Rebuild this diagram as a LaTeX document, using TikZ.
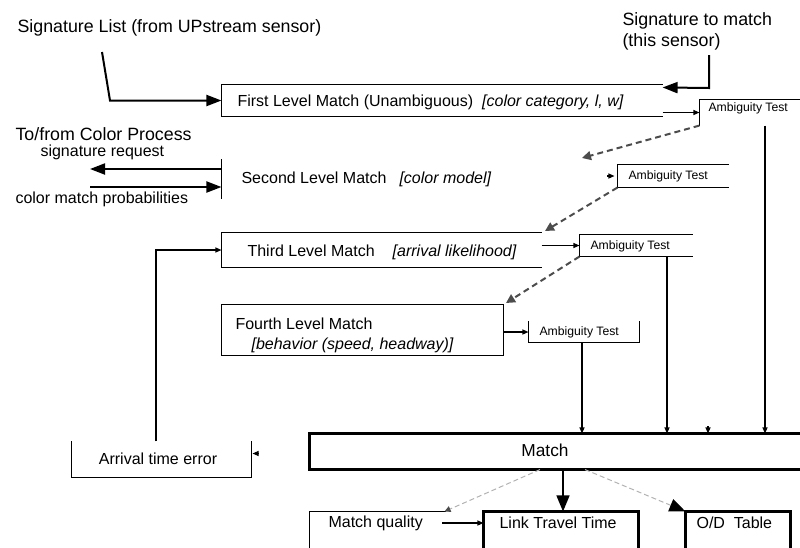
\documentclass[tikz,border=0pt]{standalone}
\usepackage{fontspec}
\setmainfont{Liberation Sans}
\usetikzlibrary{arrows.meta}
\begin{document}
\begin{tikzpicture}[x=1pt,y=-1pt,
  line width=1.1pt,
  txt/.style={inner sep=0pt, anchor=west, font=\fontsize{16}{19}\selectfont},
  bigtxt/.style={txt, font=\fontsize{17.8}{21}\selectfont},
  smtxt/.style={txt, font=\fontsize{12.2}{14}\selectfont},
  frame/.style={inner sep=0pt, draw=none, rectangle},
  bigarr/.style={-{Triangle[length=15pt,width=11pt]}, line width=2pt},
  downarr/.style={-{Triangle[length=16pt,width=13pt]}, line width=1.4pt},
  smallarr/.style={-{Triangle[length=6pt,width=5pt]}, line width=1.1pt},
  darkdash/.style={draw=black!70, line width=2pt, dash pattern=on 6pt off 4pt,
    -{Triangle[length=9pt,width=9pt]}},
  lightdash/.style={draw=black!30, line width=1pt, dash pattern=on 5pt off 3pt},
  thickbox/.style={line width=2.2pt},
  matchbox/.style={line width=2.8pt}
]
\useasboundingbox (0,0) rectangle (800,547);
\clip (0,0) rectangle (800,547);

% ---------- First level ----------
\node[frame, minimum width=440pt, minimum height=31pt] (l1) at (442,100.5) {};
\draw (l1.north east) -- (l1.north west) -- (l1.south west) -- (l1.south east);
\node[txt] (l1t) at (237,102) {First Level Match (Unambiguous)\hspace{9pt}\textit{[color category, l, w]}};

\node[bigtxt] (sl) at (17,28) {Signature List (from UPstream sensor)};
\coordinate (slout) at (102,52);
\draw[bigarr] (slout) -- (110,100.5) -- (l1.west);

\node[bigtxt, align=left] (stm) at (622,31.5) {Signature to match\\(this sensor)};
\coordinate (stmout) at (709,55);
\draw[bigarr] (stmout) -- (709,88) -- ([yshift=-3pt]l1.north east);

% ---------- Ambiguity test 1 ----------
\node[frame, minimum width=100pt, minimum height=25pt] (at1) at (750,112.5) {};
\draw (at1.south west) -- (at1.north west) -- (at1.north east);
\node[smtxt] (at1t) at (708,108) {Ambiguity Test};
\draw[smallarr] ([yshift=-12pt]l1.east) -- (at1.west);

% ---------- Second level ----------
\node[frame, minimum width=280pt, minimum height=38pt] (l2) at (362,179) {};
\draw (l2.north west) -- (l2.south west);
\node[txt] (l2t) at (241,179) {Second Level Match\hspace{13pt}\textit{[color model]}};

\node[bigtxt] (cpt) at (15,134) {To/from Color Process};
\node[txt] (srq) at (40,152) {signature request};
\node[txt] (cmp) at (15,199) {color match probabilities};
\coordinate (cp1) at (90,169);
\coordinate (cp2) at (90,187);
\draw[bigarr] ([yshift=10pt]l2.west) -- (cp1);
\draw[bigarr] (cp2) -- ([yshift=-8pt]l2.west);

\coordinate (d1) at (582,158);
\draw[darkdash] (at1.south west) -- (d1);

% ---------- Ambiguity test 2 ----------
\node[frame, minimum width=110pt, minimum height=22pt] (at2) at (673,176) {};
\draw (at2.north east) -- (at2.north west) -- (at2.south west) -- (at2.south east);
\node[smtxt] (at2t) at (628,176) {Ambiguity Test};
\draw[smallarr] ([xshift=-10pt]at2.west) -- ([xshift=-3pt]at2.west);

\coordinate (d2) at (545,231);
\draw[darkdash] (at2.south west) -- (d2);

% ---------- Third level ----------
\node[frame, minimum width=319pt, minimum height=34pt] (l3) at (381.5,250) {};
\draw (l3.north east) -- (l3.north west) -- (l3.south west) -- (l3.south east);
\node[txt] (l3t) at (247,252) {Third Level Match\hspace{18pt}\textit{[arrival likelihood]}};

\node[frame, minimum width=112pt, minimum height=21pt] (at3) at (636,245.5) {};
\draw (at3.north east) -- (at3.north west) -- (at3.south west) -- (at3.south east);
\node[smtxt] (at3t) at (590,246) {Ambiguity Test};
\draw[smallarr] (l3.east |- at3.west) -- (at3.west);

\coordinate (d3) at (506,303);
\draw[darkdash] (at3.south west) -- (d3);

% ---------- Fourth level ----------
\node[frame, minimum width=281pt, minimum height=50pt] (l4) at (362.5,330) {};
\draw (l4.north west) rectangle (l4.south east);
\node[txt] (l4t) at (235,324) {Fourth Level Match};
\node[txt] (l4u) at (251,345) {\textit{[behavior (speed, headway)]}};

\node[frame, minimum width=110pt, minimum height=20pt] (at4) at (584,332) {};
\draw (at4.north west) -- (at4.south west) -- (at4.south east) -- (at4.north east);
\node[smtxt] (at4t) at (539,332) {Ambiguity Test};
\draw[smallarr] (l4.east |- at4.west) -- (at4.west);

% ---------- Match ----------
\node[frame, minimum width=500pt, minimum height=35pt] (m) at (560,451.5) {};
\draw[matchbox] (m.north east) -- (m.north west) -- (m.south west) -- (m.south east);
\node[txt, anchor=center, font=\fontsize{17.3}{20}\selectfont] (mt) at (545,450) {Match};

\coordinate (v1) at ([xshift=15pt]at1.south);
\coordinate (v3) at ([xshift=31pt]at3.south);
\coordinate (v4) at ([xshift=-2pt]at4.south);
\coordinate (v5) at (708,426);
\draw[smallarr] (v1) -- (v1 |- m.north);
\draw[smallarr] (v3) -- (v3 |- m.north);
\draw[smallarr] (v4) -- (v4 |- m.north);
\draw[smallarr] (v5) -- (v5 |- m.north);

% ---------- Arrival time error ----------
\node[frame, minimum width=179pt, minimum height=35pt] (ate) at (161.5,459.5) {};
\draw (ate.north west) -- (ate.south west) -- (ate.south east) -- (ate.north east);
\node[txt, anchor=center] (atet) at (158,459) {Arrival time error};
\coordinate (fb) at ([xshift=-5.5pt]ate.north);
\draw[smallarr] (fb) |- (l3.west);
\draw[smallarr] ([shift={(7pt,6pt)}]ate.east) -- ([shift={(1pt,6pt)}]ate.east);

% ---------- Bottom boxes ----------
\node[frame, minimum width=135pt, minimum height=48pt] (mq) at (377.5,536) {};
\draw (mq.south west) -- (mq.north west) -- (mq.north east);
\node[txt] (mqt) at (328,523) {Match quality};

\node[frame, minimum width=154pt, minimum height=48pt] (ltt) at (561,536) {};
\draw[thickbox] (ltt.north west) rectangle (ltt.south east);
\node[txt] (lttt) at (499,523) {Link Travel Time};

\node[frame, minimum width=104pt, minimum height=48pt] (od) at (738,536) {};
\draw[thickbox] (od.north west) rectangle (od.south east);
\node[txt] (odt) at (696,523) {O/D\hspace{4.4pt} Table};

\coordinate (mqo) at (442,523);
\draw[smallarr] (mqo) -- (mqo -| ltt.west);

\coordinate (ms) at ([xshift=3pt]m.south);
\draw[downarr] (ms) -- (ms |- ltt.north);
\draw[lightdash, -{Triangle[length=6pt,width=6pt,color=black!70]}] ([xshift=-20pt]m.south) -- ([xshift=-1pt]mq.north east);
\draw[lightdash, -{Triangle[length=16pt,width=13pt,color=black]}] ([xshift=25pt]m.south) -- (od.north west);
\end{tikzpicture}
\end{document}
